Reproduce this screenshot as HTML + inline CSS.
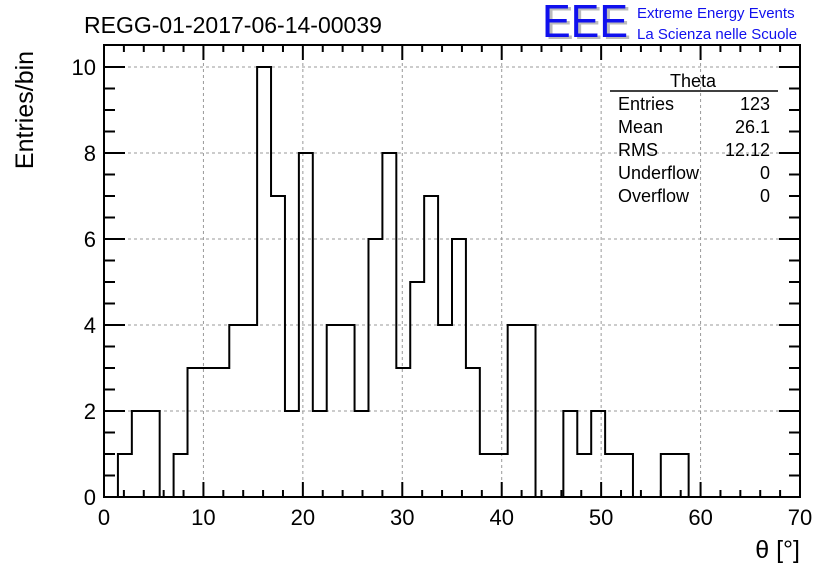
<!DOCTYPE html>
<html><head><meta charset="utf-8"><style>
body{margin:0;background:#fff;}
svg{display:block;font-family:"Liberation Sans",sans-serif;}
</style></head><body>
<svg id="c" width="836" height="572" viewBox="0 0 836 572">
<rect width="836" height="572" fill="#fff"/>
<text x="84" y="33" font-size="23">REGG-01-2017-06-14-00039</text>
<g>
<text x="545" y="39" font-size="46" fill="#bbb" textLength="86" lengthAdjust="spacingAndGlyphs">EEE</text>
<text x="542" y="37" font-size="46" fill="#1010ee" textLength="86" lengthAdjust="spacingAndGlyphs">EEE</text>
</g>
<text x="637" y="18" font-size="15" fill="#1010ee">Extreme Energy Events</text>
<text x="637" y="39" font-size="15" fill="#1010ee">La Scienza nelle Scuole</text>
<g id="grid"></g>
<g id="bars"></g>
<rect x="104" y="45" width="696" height="452" fill="none" stroke="#000" stroke-width="2"/>
<g id="ticks"></g>
<text x="33" y="110" font-size="25" transform="rotate(-90 33 110)" text-anchor="middle">Entries/bin</text>
<text x="800" y="558" font-size="25" text-anchor="end">θ [°]</text>
<g font-size="18">
<text x="693" y="87" text-anchor="middle">Theta</text>
<line x1="610" y1="91" x2="778" y2="91" stroke="#000" stroke-width="1.5"/>
<text x="618" y="110">Entries</text><text x="770" y="110" text-anchor="end">123</text>
<text x="618" y="133">Mean</text><text x="770" y="133" text-anchor="end">26.1</text>
<text x="618" y="156">RMS</text><text x="770" y="156" text-anchor="end">12.12</text>
<text x="618" y="179">Underflow</text><text x="770" y="179" text-anchor="end">0</text>
<text x="618" y="202">Overflow</text><text x="770" y="202" text-anchor="end">0</text>
</g>
</svg>
<script>
const binWidth = 1.4;
const counts = [0,1,2,2,0,1,3,3,3,4,4,10,7,2,8,2,4,4,2,6,8,3,5,7,4,6,3,1,1,4,4,0,0,2,1,2,1,1,0,0,1,1,0,0,0,0,0,0,0,0];
const xTicks = [0,10,20,30,40,50,60,70];
const yTicks = [0,2,4,6,8,10];
const NS="http://www.w3.org/2000/svg";
const X0=104,X1=800,Y0=497,Y1=67,YT=45;
const xs=v=>X0+(v/70)*(X1-X0);
const ys=v=>Y0-(v/10)*(Y0-Y1);
function mk(t,a,p){const e=document.createElementNS(NS,t);for(const k in a)e.setAttribute(k,a[k]);p.appendChild(e);return e;}
const grid=document.getElementById('grid'),ticks=document.getElementById('ticks'),bars=document.getElementById('bars');
xTicks.forEach(v=>{
  if(v>0&&v<70){const l=mk('line',{x1:xs(v),y1:YT,x2:xs(v),y2:Y0,stroke:'#999','stroke-dasharray':'3,3'},grid);
  
  }
  const t=mk('text',{x:xs(v),y:525,'font-size':22,'text-anchor':'middle'},ticks);t.textContent=v;
  
  
});
yTicks.forEach(v=>{
  if(v>0){const l=mk('line',{x1:X0,y1:ys(v),x2:X1,y2:ys(v),stroke:'#999','stroke-dasharray':'3,3'},grid);
  
  }
  const t=mk('text',{x:96,y:ys(v)+8,'font-size':22,'text-anchor':'end'},ticks);t.textContent=v;
  
  
});
for(let v=0;v<=70;v+=2){const L=(v%10===0)?15:7;
  mk('line',{x1:xs(v),y1:Y0,x2:xs(v),y2:Y0-L,stroke:'#000','stroke-width':2},ticks);
  mk('line',{x1:xs(v),y1:YT,x2:xs(v),y2:YT+L,stroke:'#000','stroke-width':2},ticks);}
for(let v=0;v<=11;v+=0.5){const L=(Math.abs(v%2)<1e-6)?21:11;if(ys(v)<YT+2)continue;
  mk('line',{x1:X0,y1:ys(v),x2:X0+L,y2:ys(v),stroke:'#000','stroke-width':2},ticks);
  mk('line',{x1:X1,y1:ys(v),x2:X1-L,y2:ys(v),stroke:'#000','stroke-width':2},ticks);}
let d='M'+xs(0)+','+ys(0);
counts.forEach((c,i)=>{d+=' L'+xs(i*binWidth)+','+ys(c)+' L'+xs((i+1)*binWidth)+','+ys(c);});
d+=' L'+xs(counts.length*binWidth)+','+ys(0);
const p=mk('path',{d:d,fill:'none',stroke:'#000','stroke-width':2},bars);


</script>
</body></html>
